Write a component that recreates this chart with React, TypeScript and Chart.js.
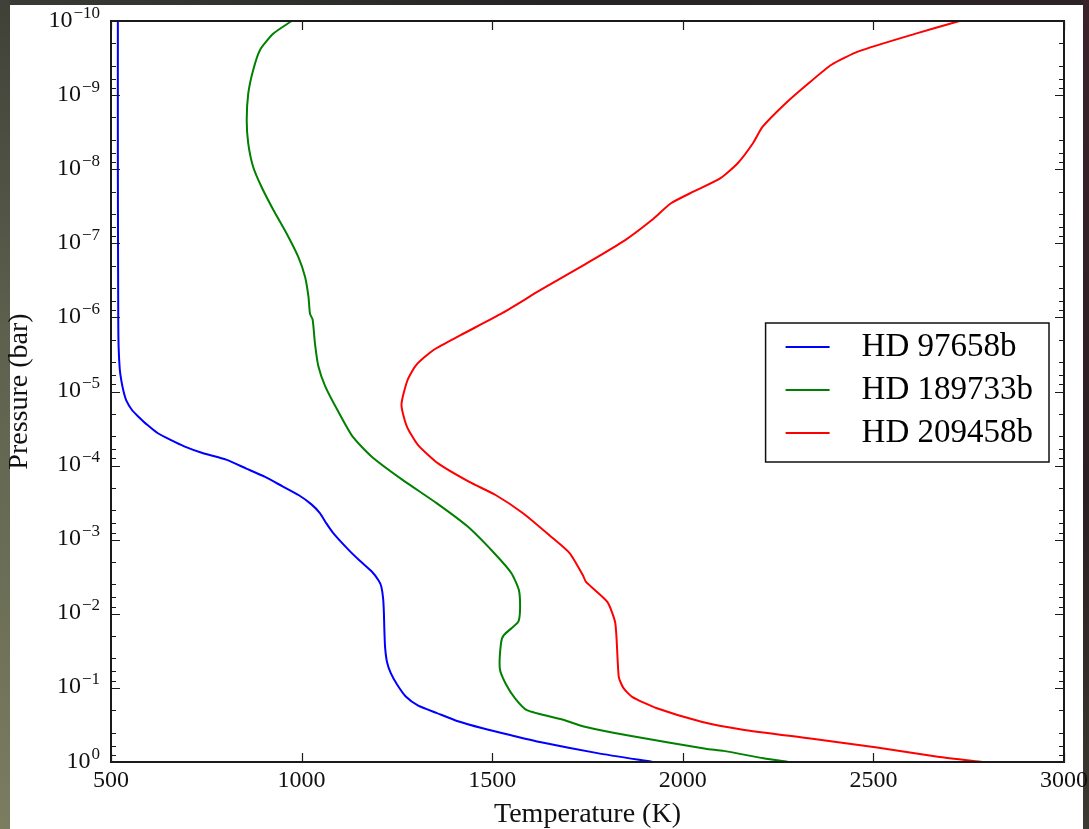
import React, { useEffect, useRef } from "react";
import { Chart, registerables } from "chart.js";

Chart.register(...registerables);

// ---- data (log10 pressure in bar, temperature in K) ----
const seriesNames = ["HD 97658b", "HD 189733b", "HD 209458b"];
const seriesColors = ["#0000ff", "#008000", "#ff0000"];

const blueLogP = [-10, -8, -6, -5.6, -5.3, -5.15, -5.0, -4.88, -4.75, -4.66, -4.55, -4.44, -4.35, -4.26, -4.17, -4.08, -3.96, -3.85, -3.72, -3.6, -3.48, -3.36, -3.22, -3.09, -2.86, -2.72, -2.57, -2.45, -2.37, -2.2, -2.0, -1.8, -1.55, -1.35, -1.2, -1.05, -0.88, -0.76, -0.66, -0.55, -0.455, -0.36, -0.27, -0.12, 0];
const blueTemp = [518, 518, 519, 520, 523, 527, 533, 540, 555, 572, 595, 622, 655, 692, 740, 802, 855, 903, 950, 993, 1025, 1048, 1065, 1083, 1124, 1152, 1184, 1202, 1209, 1214, 1216, 1217, 1219, 1224, 1234, 1250, 1274, 1306, 1355, 1410, 1475, 1550, 1625, 1776, 1921];

const greenLogP = [-10, -9.83, -9.61, -9.34, -9.02, -8.66, -8.35, -8.03, -7.76, -7.45, -7.13, -6.82, -6.55, -6.28, -6.05, -5.97, -5.65, -5.34, -5.07, -4.75, -4.39, -4.12, -3.81, -3.49, -3.18, -2.82, -2.55, -2.32, -2.05, -1.89, -1.71, -1.6, -1.26, -1.06, -0.86, -0.7, -0.57, -0.48, -0.35, -0.18, -0.15, -0.05, 0];
const greenTemp = [974, 926, 891, 873, 860, 856, 860, 873, 895, 926, 961, 991, 1009, 1018, 1022, 1029, 1035, 1044, 1062, 1094, 1134, 1184, 1264, 1355, 1435, 1505, 1550, 1570, 1573, 1568, 1530, 1523, 1520, 1535, 1560, 1591, 1686, 1740, 1865, 2060, 2107, 2212, 2277];

const redLogP = [-10, -9.83, -9.59, -9.41, -9.16, -8.89, -8.57, -8.35, -8.08, -7.88, -7.7, -7.54, -7.31, -7.04, -6.73, -6.37, -6.06, -5.76, -5.56, -5.36, -5.155, -4.82, -4.53, -4.28, -4.03, -3.78, -3.6, -3.36, -3.06, -2.82, -2.52, -2.43, -2.16, -1.87, -1.15, -1.0, -0.88, -0.725, -0.544, -0.44, -0.32, -0.2, -0.07, 0];
const redTemp = [2726, 2611, 2461, 2390, 2330, 2270, 2209, 2184, 2144, 2099, 2029, 1969, 1918, 1848, 1748, 1627, 1527, 1417, 1346, 1301, 1278, 1262, 1276, 1305, 1358, 1440, 1510, 1580, 1650, 1703, 1738, 1746, 1802, 1823, 1832, 1844, 1867, 1932, 2049, 2154, 2330, 2505, 2669, 2786];

const xTickValues = [500, 1000, 1500, 2000, 2500, 3000];
const yTickExponents = [-10, -9, -8, -7, -6, -5, -4, -3, -2, -1, 0];
const yMinorMultipliers = [2, 4, 6, 8];

const xTitle = "Temperature (K)";
const yTitle = "Pressure (bar)";

const FONT = '"Liberation Serif", "Times New Roman", serif';

const decorPlugin = {
  id: "decor",
  afterDatasetsDraw(chart: any) {
    const { ctx, chartArea: a, scales } = chart;
    const xs = scales.x;
    const ys = scales.y;
    ctx.save();
    ctx.strokeStyle = "#1a1a1a";
    ctx.lineWidth = 1.2;
    ctx.beginPath();
    xTickValues.forEach((v) => {
      const px = Math.round(xs.getPixelForValue(v)) + 0.5;
      ctx.moveTo(px, a.bottom);
      ctx.lineTo(px, a.bottom - 9);
      ctx.moveTo(px, a.top);
      ctx.lineTo(px, a.top + 9);
    });
    yTickExponents.forEach((e) => {
      const py = Math.round(ys.getPixelForValue(Math.pow(10, e))) + 0.5;
      ctx.moveTo(a.left, py);
      ctx.lineTo(a.left + 9, py);
      ctx.moveTo(a.right, py);
      ctx.lineTo(a.right - 9, py);
      if (e < 0) {
        yMinorMultipliers.forEach((m) => {
          const pm = Math.round(ys.getPixelForValue(m * Math.pow(10, e))) + 0.5;
          ctx.moveTo(a.left, pm);
          ctx.lineTo(a.left + 5, pm);
          ctx.moveTo(a.right, pm);
          ctx.lineTo(a.right - 5, pm);
        });
      }
    });
    ctx.stroke();

    // frame
    ctx.lineWidth = 2;
    ctx.strokeRect(a.left, a.top, a.right - a.left, a.bottom - a.top);

    // y tick labels with superscripts
    ctx.fillStyle = "#111";
    ctx.textBaseline = "alphabetic";
    ctx.textAlign = "left";
    yTickExponents.forEach((e) => {
      const py = ys.getPixelForValue(Math.pow(10, e));
      const sup = e === 0 ? "0" : "\u2212" + Math.abs(e);
      ctx.font = "24px " + FONT;
      const w1 = ctx.measureText("10").width;
      ctx.font = "17px " + FONT;
      const w2 = ctx.measureText(sup).width;
      const right = a.left - 11;
      const x0 = right - w1 - w2 - 1;
      ctx.font = "24px " + FONT;
      ctx.fillText("10", x0, py + 5.5);
      ctx.font = "17px " + FONT;
      ctx.fillText(sup, x0 + w1 + 1, py - 3.5);
    });

    // legend
    const ds = chart.data.datasets;
    ctx.font = "33px " + FONT;
    const textW = Math.max(...ds.map((d: any) => ctx.measureText(d.label).width));
    const padL = 20, lineLen = 44, gap = 32, padR = 16, rowH = 43, boxH = 139;
    const boxW = padL + lineLen + gap + textW + padR;
    const right = a.right - 15;
    const left = right - boxW;
    const top = (a.top + a.bottom) / 2 - boxH / 2 + 1;
    ctx.fillStyle = "#ffffff";
    ctx.fillRect(left, top, boxW, boxH);
    ctx.lineWidth = 1.5;
    ctx.strokeStyle = "#111";
    ctx.strokeRect(left, top, boxW, boxH);
    ds.forEach((d: any, i: number) => {
      const yRow = top + 24 + i * rowH;
      ctx.strokeStyle = d.borderColor;
      ctx.lineWidth = 2;
      ctx.beginPath();
      ctx.moveTo(left + padL, yRow);
      ctx.lineTo(left + padL + lineLen, yRow);
      ctx.stroke();
      ctx.fillStyle = "#000";
      ctx.textBaseline = "middle";
      ctx.fillText(d.label, left + padL + lineLen + gap, yRow);
    });
    ctx.restore();
  },
};

export default function App() {
  const ref = useRef<HTMLCanvasElement>(null);
  useEffect(() => {
    document.body.style.margin = "0";
    const canvas = ref.current;
    if (!canvas) return;
    const toPts = (lp: number[], t: number[]) => lp.map((e, i) => ({ x: t[i], y: Math.pow(10, e) }));
    const logs = [blueLogP, greenLogP, redLogP];
    const temps = [blueTemp, greenTemp, redTemp];
    const chart = new Chart(canvas, {
      type: "scatter",
      data: {
        datasets: seriesNames.map((name, i) => ({
          label: name,
          data: toPts(logs[i], temps[i]),
          showLine: true,
          borderColor: seriesColors[i],
          backgroundColor: seriesColors[i],
          borderWidth: 2,
          pointRadius: 0,
          tension: 0.2,
          fill: false,
        })),
      },
      options: {
        responsive: false,
        animation: false,
        devicePixelRatio: 1,
        events: [],
        layout: { padding: { left: 0, top: 21, right: 25, bottom: 0 } },
        plugins: { legend: { display: false }, tooltip: { enabled: false } },
        scales: {
          x: {
            type: "linear",
            min: 500,
            max: 3000,
            afterBuildTicks: (s: any) => {
              s.ticks = xTickValues.map((v) => ({ value: v }));
            },
            afterFit: (s: any) => {
              s.height = 67;
              s.paddingLeft = 0;
              s.paddingRight = 0;
            },
            grid: { display: false, drawTicks: false },
            border: { display: false },
            ticks: {
              color: "#111",
              padding: 4,
              maxRotation: 0,
              font: { family: FONT, size: 24 },
              callback: (v: any) => String(v),
            },
            title: {
              display: true,
              text: xTitle,
              color: "#111",
              font: { family: FONT, size: 28, lineHeight: 1 },
              padding: { top: 0, bottom: 0 },
            },
          },
          y: {
            type: "logarithmic",
            reverse: true,
            min: 1e-10,
            max: 1,
            afterBuildTicks: (s: any) => {
              s.ticks = yTickExponents.map((e) => ({ value: Math.pow(10, e) }));
            },
            afterFit: (s: any) => {
              s.width = 111;
              s.paddingTop = 0;
              s.paddingBottom = 0;
            },
            grid: { display: false, drawTicks: false },
            border: { display: false },
            ticks: { display: false },
            title: {
              display: true,
              text: yTitle,
              color: "#111",
              font: { family: FONT, size: 28, lineHeight: 1 },
              padding: { top: 6, bottom: 0 },
            },
          },
        },
      },
      plugins: [decorPlugin],
    } as any);
    return () => chart.destroy();
  }, []);

  return (
    <div style={{ position: "relative", width: 1089, height: 829, overflow: "hidden", background: "#2a2627" }}>
      <div style={{ position: "absolute", left: 0, top: 0, width: 1089, height: 6, background: "linear-gradient(90deg, #3a3b35 0%, #262424 50%, #2c2326 100%)" }} />
      <div style={{ position: "absolute", left: 0, top: 0, width: 10, height: 829, background: "linear-gradient(180deg, #3f4138 0%, #5d604d 40%, #7a7d60 100%)" }} />
      <div style={{ position: "absolute", left: 1083, top: 0, width: 6, height: 829, background: "linear-gradient(180deg, #3a2329 0%, #2a1f22 60%, #3b3a30 100%)" }} />
      <div style={{ position: "absolute", left: 10, top: 5, width: 1073, height: 824, background: "#ffffff" }} />
      <canvas ref={ref} width={1089} height={829} style={{ position: "absolute", left: 0, top: 0, width: 1089, height: 829 }} />
    </div>
  );
}
